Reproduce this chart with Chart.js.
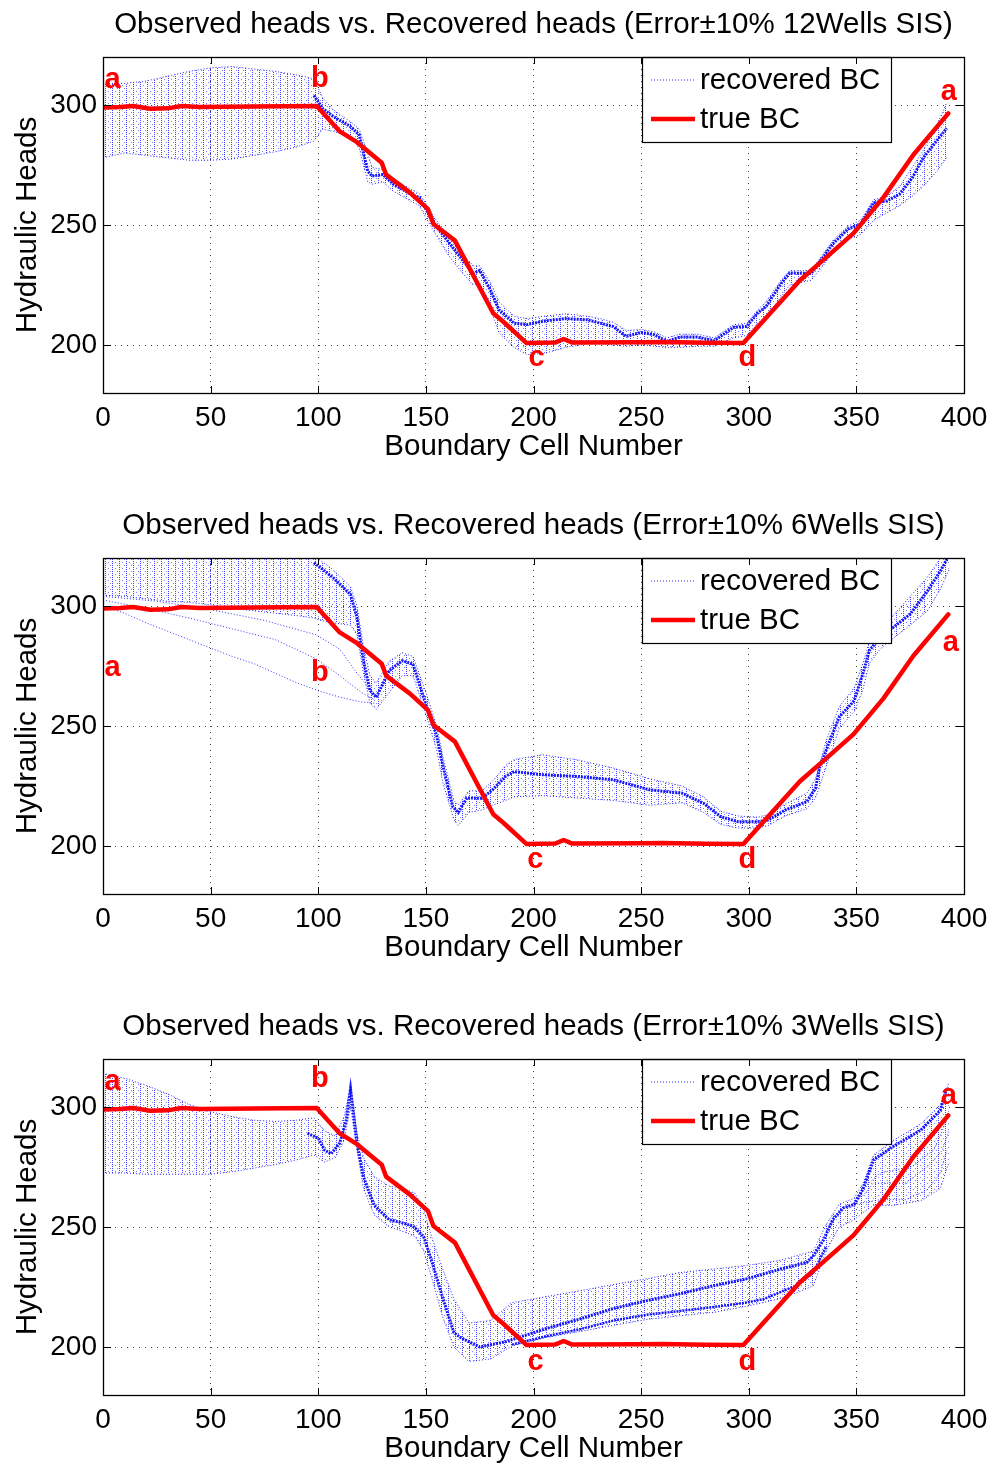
<!DOCTYPE html>
<html>
<head>
<meta charset="utf-8">
<script src="https://cdn.jsdelivr.net/npm/chart.js@4.4.1/dist/chart.umd.min.js"></script>
<style>
  html, body { margin: 0; padding: 0; background: #fff; }
  body { width: 996px; height: 1465px; position: relative; overflow: hidden; }
  .panel { position: absolute; left: 0; width: 996px; height: 465px; }
</style>
</head>
<body>
<div class="panel" style="top:0px"><canvas id="c1" width="996" height="465"></canvas></div>
<div class="panel" style="top:501px"><canvas id="c2" width="996" height="465"></canvas></div>
<div class="panel" style="top:1002px"><canvas id="c3" width="996" height="465"></canvas></div>
<script>
// ---------- axis ticks and titles ----------
const xTickValues = [0, 50, 100, 150, 200, 250, 300, 350, 400];
const yTickValues = [200, 250, 300];
const panelTitles = [
  'Observed heads vs. Recovered heads (Error\u00b110% 12Wells SIS)',
  'Observed heads vs. Recovered heads (Error\u00b110% 6Wells SIS)',
  'Observed heads vs. Recovered heads (Error\u00b110% 3Wells SIS)'
];

// ---------- true boundary condition (cell, head) ----------
const trueBC = [[0,299],[8,299.2],[14,299.6],[22,298.4],[30,298.6],[36.5,299.6],[45,299.2],[70,299.4],
  [99.3,299.6],[110,289],[118,284.5],[129.5,275.9],[131.5,271],[142.6,263.5],[151,256.6],[153.5,250.4],
  [163.5,243.5],[181.3,213.2],[186,209.7],[196.8,200.8],[210,201],[214,202.5],[218,201],[250,201.1],
  [260,201.2],[280,200.9],[297.5,200.8],[323.8,227],[336,236.5],[348.6,246.5],[362.5,261.4],[376.5,279.3],[392.7,296.5]];

// ---------- 12 wells: spread of the recovered realisations ----------
const p1BandX = [0,10,20,30,40,50,60,70,80,90,98,102,107,115,119,123,125,130,135,143,147,150,154,160,166,172,175,180,184,191,
  197,205,215,225,231,237,243,250,256,262,268,276,284,293,299,304,308,315,319,329,339,346,352,358,364,370,376,381,387,392];
const p1Upper = [309,309,310,312,314,315.5,316,315,314,312.5,311,303,298,293,290,280,274,273,269,265,263,259,253,246,239,233,233,226,218,212,
  211,212,213,212,211,209.5,206,206.5,205.5,203,204.5,204.5,203,208.5,209,214.5,218,227,231,231,243.5,249.5,252,260.5,262,266,274,281,291,301];
const p1Lower = [278,280,279,278,277,277,277.5,279,280.5,282.5,285,290,289,287,282,268,267,268,264,260,258,253,247,238,231,225,226,215,205,199,
  196,196.5,199,200.5,200.5,200,199.5,200,199.5,199,199,199.5,199.5,203,204,209,212,220,225,227,238,244,246,252,255,258,262,266,272,278];
const p1Core = [[98,304],[102,298.6],[107,295.2],[115,291],[119,287.6],[123,272.4],[125,270.4],[130,271],[135,267],[143,262.8],
  [147,261.4],[150,256.6],[154,250.4],[160,243.5],[166,236.6],[172,229.8],[175,231.1],[180,222.9],[184,214.6],[191,209.1],
  [197,208.5],[205,210],[215,211],[225,210.5],[231,209.1],[237,207.7],[243,203.6],[250,205.2],[256,204.3],[262,201.5],
  [268,203.3],[276,203.3],[284,201.8],[293,207.4],[299,207.7],[304,213.2],[308,216],[315,225.6],[319,230],[329,229.8],
  [339,242.1],[346,248.3],[352,250.4],[358,259.3],[364,260],[370,262.8],[376,269.7],[381,277.9],[387,284.8],[392,290.3]];
const p1Letters = [['a',4.4,306.9],['b',100.8,307.6],['c',201.4,191.2],['d',299.4,191.2],['a',393,302.1]];

// ---------- 6 wells ----------
const p2BandX = [0,10,20,30,40,50,60,70,80,90,98,101,107,115,118,121,124,127,133,139,144,150,155,158,163,165,170,176,181,187,
  191,204,220,237,254,269,279,287,295,304,309,317,327,331,336,342,349,353,356,361,367,375,383,389,393];
const p2Upper = [325,325,325,325,325,325,325,325,325,324,321,319,315,308,300,283,271,268,277,280.5,279,264,250,237,219,217,223,223,227,233.5,
  236,238,236,232.5,228,225,220.5,214.5,212.5,212,213,217.5,222,228,244,258,266,276,285,291,296,304,312,320,326];
const p2Lower = [304.5,304,303,302,301.5,300.5,299,298,297,296,295,294,293,292,288,272,259.5,257,264,271,271,255,240,226,211,208.5,214,215,217,219,
  220.5,221,220,219,217,218,214,209,207.5,207.5,208.5,212.5,215.5,220,233,249,256,265,276,282,286.5,292,298,307,315];
const p2Core = [[98,318],[101,316],[107,311.7],[115,304.8],[118,295.2],[121,277.2],[124,264.8],[127,262],[133,273.1],[139,277.2],
  [144,275.8],[150,259],[155,246],[158,233],[162.5,216.4],[165,214],[169,220],[176,219.9],[181,223.4],[187,229],[191,231],
  [204,229.7],[220,229],[237,227.6],[254,223.4],[269,222],[279,217.8],[287,212.2],[295,210.1],[304,210.1],[309,210.8],
  [317,215],[327,218.5],[331,224],[333,233],[336,240],[342,253.7],[349,260.6],[353,271.7],[356,281.4],[361,286.9],
  [367,291],[375,296.6],[383,306.2],[389,314.5],[393,321]];
const p2FanA = [[0,300],[10,297],[20,293],[30,289.5],[40,286],[50,282.5],[60,279],[70,276],[80,272],[90,268],[99,265],[110,262],[120,260],[126,259.5]];
const p2FanB = [[0,302.5],[20,299],[40,295],[60,290.5],[80,286],[99,278],[110,271],[120,264],[126,261]];
const p2FanC = [[0,304],[25,302],[50,298.5],[75,294],[99,288],[110,282],[118,272],[126,263]];
const p2Letters = [['a',4.4,271],['b',100.8,268.9],['c',200.9,191],['d',299.4,191],['a',393.9,281.4]];

// ---------- 3 wells ----------
const p3BandX = [0,10,20,30,40,50,60,70,80,90,98,103,108,112,115,118,121,126,133,140,145,149,153,158,163,170,180,190,206,222,
  237,253,268,284,299,314,322,330,336,342,349,353,358,367,380,389,393];
const p3Upper = [314,312,309,305.5,301,298,296,294.5,294,294.5,295.5,290,288,296,308.5,289,279,271,267,266,264,257,245,232,220,210,211,218.5,221,223.5,
  226,228.5,231,232.5,234,236,238,240,251,259.5,262,268,280,286,293,301,310];
const p3Lower = [272.5,272.5,272,272,272,272,273,274.5,276,278,280,277,279,286,300,282,266,255,250,248,246,240,228,212,200,194,195,200.5,204,206.5,
  209,211.5,213,214.5,217,220,222.5,225.5,240,250,253,256,259,259,261,266,277];
const p3Core = [[95,289],[100,287],[103,282],[106,280.5],[110,285],[113,294.5],[115,307.6],[118,285],[121,271],[123,266],[126,259],
  [133,253],[138,252],[144,250.4],[149,246],[153,235],[158,220],[163,206],[166,204],[175,200],[187,202.2],[206,207.7],
  [222,211.8],[237,216],[253,219.4],[268,222.2],[284,225.6],[299,228.4],[315,232.5],[327,235.3],[330,238],[335,245],
  [339,253],[344,258],[349,259.4],[353,265.6],[358,278],[367,283.5],[380,290.4],[389,298.6],[392,308]];
const p3Core2 = [[190,201],[206,204.5],[222,207.5],[237,211],[253,213.5],[268,215],[284,216.7],[299,218.5],[307,220],[322,225.6],[330,231],[336,242]];
const p3BranchLow = [[349,259.4],[361,261.4],[373,261.4],[383,265.6],[389,272.5],[392,282]];
const p3BranchMid = [[353,263],[358,268.3],[373,268.3],[383,275],[390,282],[393,290]];
const p3BranchHigh = [[353,266],[361,272.5],[376,275.2],[386,282.1],[392,294.5]];
const p3Letters = [['a',4.4,306.9],['b',100.8,308.5],['c',201,190.6],['d',299.4,190.6],['a',393,301.4]];

// ---------- styling ----------
const FONT = '"Liberation Sans", Arial, Helvetica, sans-serif';
const BLUE = '#0000ff';
const RED = '#ff0000';

// speckled fill used for the spread of the realisations
function speckle() {
  const c = document.createElement('canvas');
  c.width = 7; c.height = 6;
  const g = c.getContext('2d');
  g.fillStyle = 'rgba(0,0,255,0.75)';
  g.fillRect(0, 0, 1, 1); g.fillRect(0, 2, 1, 1); g.fillRect(0, 4, 1, 1);
  g.fillStyle = 'rgba(0,0,255,0.5)';
  g.fillRect(3, 1, 1, 1); g.fillRect(5, 4, 1, 1);
  return g.createPattern(c, 'repeat');
}
const SPECKLE = speckle();

const pts = a => a.map(([x, y]) => ({x, y}));
const band = (xs, ys) => xs.map((x, i) => ({x, y: ys[i]}));

function trueSet() {
  return {label: 'true BC', data: pts(trueBC), borderColor: RED, borderWidth: 4.5,
          pointRadius: 0, fill: false, borderJoinStyle: 'round', borderCapStyle: 'round'};
}
function edgeSet(data, fillPrev) {
  return {label: 'recovered BC', data, borderColor: 'rgba(0,0,255,0.85)', borderWidth: 1,
          borderDash: [1, 2], pointRadius: 0, fill: fillPrev ? '-1' : false, backgroundColor: SPECKLE};
}
function coreSet(a, w) {
  return {label: 'recovered BC', data: pts(a), borderColor: 'rgba(0,0,255,0.9)', borderWidth: w || 3,
          borderDash: [2, 1], pointRadius: 0, fill: false};
}
function memberSet(a) {
  return {label: 'recovered BC', data: pts(a), borderColor: 'rgba(0,0,255,0.8)', borderWidth: 1,
          borderDash: [1, 2], pointRadius: 0, fill: false};
}

// frame, inward tick marks, legend box and point letters
const decorations = {
  id: 'decorations',
  afterDatasetsDraw(chart, args, opts) {
    const ctx = chart.ctx, xs = chart.scales.x, ys = chart.scales.y;
    ctx.save();
    ctx.fillStyle = RED;
    ctx.font = 'bold 29px ' + FONT;
    ctx.textAlign = 'center';
    ctx.textBaseline = 'alphabetic';
    opts.letters.forEach(([t, x, y]) => ctx.fillText(t, xs.getPixelForValue(x), ys.getPixelForValue(y)));
    // legend
    const a = chart.chartArea;
    const L = a.left + 539, T = a.top, W = 249, H = 85;
    ctx.fillStyle = '#fff';
    ctx.fillRect(L, T, W, H);
    ctx.strokeStyle = '#000';
    ctx.lineWidth = 1.2;
    ctx.strokeRect(L + 0.5, T + 0.5, W, H);
    const rec = chart.data.datasets[1], tru = chart.data.datasets[0];
    const rows = [[rec, T + 23], [tru, T + 62]];
    rows.forEach(([ds, y]) => {
      ctx.beginPath();
      ctx.setLineDash(ds.borderDash || []);
      ctx.strokeStyle = ds.borderColor;
      ctx.lineWidth = ds.borderWidth;
      ctx.moveTo(L + 9, y); ctx.lineTo(L + 53, y);
      ctx.stroke();
      ctx.setLineDash([]);
      ctx.fillStyle = '#000';
      ctx.font = '29.5px ' + FONT;
      ctx.textAlign = 'left';
      ctx.textBaseline = 'middle';
      ctx.fillText(ds.label, L + 58, y + 1);
    });
    ctx.restore();
  },
  afterDraw(chart) {
    const ctx = chart.ctx, a = chart.chartArea, xs = chart.scales.x, ys = chart.scales.y;
    ctx.save();
    ctx.strokeStyle = '#000';
    ctx.lineWidth = 1;
    ctx.beginPath();
    xs.ticks.forEach(t => {
      const px = Math.round(xs.getPixelForValue(t.value)) + 0.5;
      ctx.moveTo(px, a.bottom); ctx.lineTo(px, a.bottom - 7);
      ctx.moveTo(px, a.top); ctx.lineTo(px, a.top + 7);
    });
    ys.ticks.forEach(t => {
      const py = Math.round(ys.getPixelForValue(t.value)) + 0.5;
      ctx.moveTo(a.left, py); ctx.lineTo(a.left + 8, py);
      ctx.moveTo(a.right, py); ctx.lineTo(a.right - 8, py);
    });
    ctx.stroke();
    ctx.lineWidth = 1.3;
    ctx.strokeRect(Math.round(a.left) + 0.5, Math.round(a.top) + 0.5,
                   Math.round(a.right - a.left), Math.round(a.bottom - a.top));
    ctx.restore();
  }
};

function makePanel(id, title, datasets, letters) {
  const gridStyle = {color: 'rgba(0,0,0,0.75)', lineWidth: 1, drawTicks: false};
  new Chart(document.getElementById(id), {
    type: 'line',
    data: {datasets},
    plugins: [decorations],
    options: {
      responsive: false,
      animation: false,
      events: [],
      layout: {padding: {left: 0, right: 32, top: 0, bottom: 0}},
      plugins: {
        legend: {display: false},
        tooltip: {enabled: false},
        title: {display: true, text: title, fullSize: false, color: '#000',
                font: {family: FONT, size: 29.5, weight: 'normal'}, padding: {top: 7, bottom: 14.6}},
        decorations: {letters}
      },
      scales: {
        x: {
          type: 'linear', min: 0, max: 400,
          afterBuildTicks: s => { s.ticks = xTickValues.map(v => ({value: v})); },
          afterFit: s => { s.height = 72; },
          ticks: {color: '#000', padding: 8, maxRotation: 0, autoSkip: false, font: {family: FONT, size: 28}},
          grid: gridStyle,
          border: {display: false, dash: [1, 5]},
          title: {display: true, text: 'Boundary Cell Number', color: '#000',
                  font: {family: FONT, size: 29.5}, padding: {top: 0, bottom: 0}}
        },
        y: {
          type: 'linear', min: 180, max: 320,
          afterBuildTicks: s => { s.ticks = yTickValues.map(v => ({value: v})); },
          afterFit: s => { s.width = 103; },
          ticks: {color: '#000', padding: 6, font: {family: FONT, size: 28}},
          grid: gridStyle,
          border: {display: false, dash: [1, 5]},
          title: {display: true, text: 'Hydraulic Heads', color: '#000',
                  font: {family: FONT, size: 29.5}, padding: {top: 10, bottom: 0}}
        }
      }
    }
  });
}

makePanel('c1', panelTitles[0], [
  trueSet(),
  edgeSet(band(p1BandX, p1Upper), false),
  edgeSet(band(p1BandX, p1Lower), true),
  coreSet(p1Core)
], p1Letters);

makePanel('c2', panelTitles[1], [
  trueSet(),
  edgeSet(band(p2BandX, p2Upper), false),
  edgeSet(band(p2BandX, p2Lower), true),
  coreSet(p2Core),
  memberSet(p2FanA),
  memberSet(p2FanB),
  memberSet(p2FanC)
], p2Letters);

makePanel('c3', panelTitles[2], [
  trueSet(),
  edgeSet(band(p3BandX, p3Upper), false),
  edgeSet(band(p3BandX, p3Lower), true),
  coreSet(p3Core),
  coreSet(p3Core2, 2.5),
  memberSet(p3BranchLow),
  memberSet(p3BranchMid),
  memberSet(p3BranchHigh)
], p3Letters);
</script>
</body>
</html>
